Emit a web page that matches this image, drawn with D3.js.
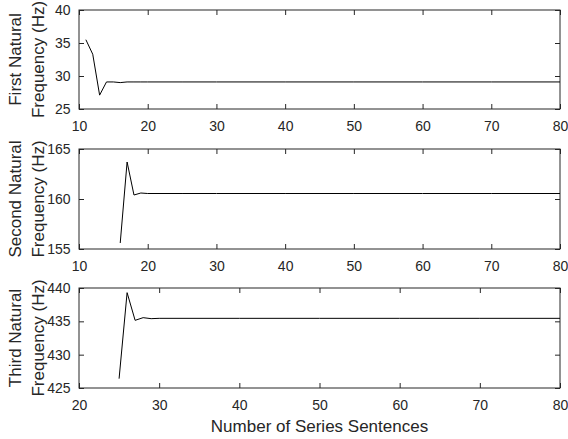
<!DOCTYPE html>
<html lang="en">
<head>
  <meta charset="UTF-8">
  <title>natural frequencies</title>
  <script src="https://d3js.org/d3.v7.min.js"></script>
  <style>
    body { margin: 0; background: #fff; }
    text { font-family: "Liberation Sans", Arial, sans-serif; }
  </style>
</head>
<body>
<svg></svg>
<script>
  // sentences vs natural frequency
  const firstX = [11, 12, 13, 14, 15, 16, 17, 18, 19, 20, 25, 30, 40, 50, 60, 70, 80]
  const firstY = [35.5, 33.3, 27.1, 29.1, 29.1, 29.0, 29.1, 29.1, 29.1, 29.1, 29.1, 29.1, 29.1, 29.1, 29.1, 29.1, 29.1]
  const secondX = [16, 17, 18, 19, 20, 25, 30, 40, 50, 60, 70, 80]
  const secondY = [155.6, 163.7, 160.4, 160.6, 160.55, 160.55, 160.55, 160.55, 160.55, 160.55, 160.55, 160.55]
  const thirdX = [25, 26, 27, 28, 29, 30, 40, 50, 60, 70, 80]
  const thirdY = [426.4, 439.3, 435.15, 435.55, 435.4, 435.45, 435.45, 435.45, 435.45, 435.45, 435.45]

  const panels = [
    {xs: firstX, ys: firstY, xDomain: [10, 80], yDomain: [25, 40], yTicks: [25, 30, 35, 40],
     label: ['First Natural', 'Frequency (Hz)'], top: 10, bottom: 109},
    {xs: secondX, ys: secondY, xDomain: [10, 80], yDomain: [155, 165], yTicks: [155, 160, 165],
     label: ['Second Natural', 'Frequency (Hz)'], top: 149, bottom: 249},
    {xs: thirdX, ys: thirdY, xDomain: [20, 80], yDomain: [425, 440], yTicks: [425, 430, 435, 440],
     label: ['Third Natural', 'Frequency (Hz)'], top: 288, bottom: 388}
  ]

  const width = 568, height = 439
  const left = 79, right = 560
  const axisColor = '#262626'

  const svg = d3.select('svg')
      .attr('width', width)
      .attr('height', height)
      .attr('viewBox', [0, 0, width, height])

  panels.forEach(p => {
    const x = d3.scaleLinear().domain(p.xDomain).range([left, right])
    const y = d3.scaleLinear().domain(p.yDomain).range([p.bottom, p.top])
    const xTicks = d3.range(p.xDomain[0], p.xDomain[1] + 1, 10)

    const g = svg.append('g')

    g.append('rect')
        .attr('x', left).attr('y', p.top)
        .attr('width', right - left).attr('height', p.bottom - p.top)
        .attr('fill', 'none').attr('stroke', axisColor).attr('stroke-width', 1)

    // bottom + left with labels, top + right mirrored ticks
    g.append('g')
        .attr('transform', `translate(0,${p.bottom})`)
        .call(d3.axisBottom(x).tickValues(xTicks).tickSize(-5).tickSizeOuter(0).tickPadding(12))
    g.append('g')
        .attr('transform', `translate(0,${p.top})`)
        .call(d3.axisTop(x).tickValues(xTicks).tickSize(-5).tickSizeOuter(0).tickFormat(''))
    g.append('g')
        .attr('transform', `translate(${left},0)`)
        .call(d3.axisLeft(y).tickValues(p.yTicks).tickSize(-5).tickSizeOuter(0).tickPadding(8.5))
    g.append('g')
        .attr('transform', `translate(${right},0)`)
        .call(d3.axisRight(y).tickValues(p.yTicks).tickSize(-5).tickSizeOuter(0).tickFormat(''))

    g.selectAll('.domain').remove()
    g.selectAll('.tick line').attr('stroke', axisColor)
    g.selectAll('.tick text')
        .attr('fill', axisColor)
        .style('font-size', '14px')
        .style('font-family', '"Liberation Sans", Arial, sans-serif')

    const line = d3.line()
        .x((d, i) => x(p.xs[i]))
        .y(d => y(d))
    g.append('path')
        .datum(p.ys)
        .attr('fill', 'none')
        .attr('stroke', '#000')
        .attr('stroke-width', 1)
        .attr('d', line)

    const cy = (p.top + p.bottom) / 2
    g.append('text')
        .attr('transform', `translate(21,${cy}) rotate(-90)`)
        .attr('text-anchor', 'middle')
        .style('font-size', '17px')
        .attr('fill', axisColor)
        .text(p.label[0])
    g.append('text')
        .attr('transform', `translate(44,${cy}) rotate(-90)`)
        .attr('text-anchor', 'middle')
        .style('font-size', '17px')
        .attr('fill', axisColor)
        .text(p.label[1])
  })

  svg.append('text')
      .attr('x', (left + right) / 2)
      .attr('y', 432)
      .attr('text-anchor', 'middle')
      .style('font-size', '17px')
      .attr('fill', axisColor)
      .text('Number of Series Sentences')
</script>
</body>
</html>
